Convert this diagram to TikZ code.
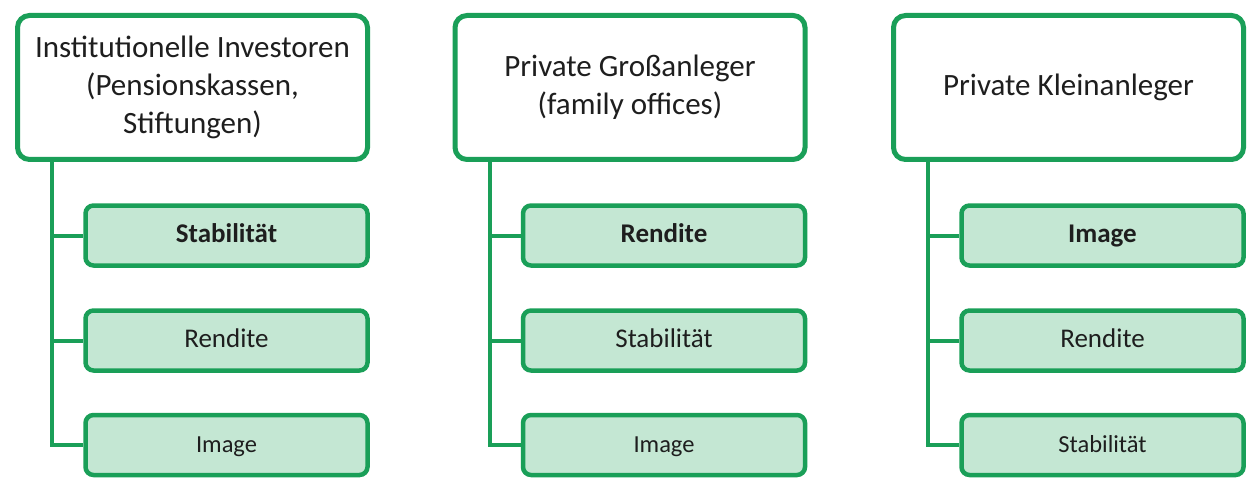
\documentclass[tikz,border=0pt]{standalone}
\usepackage{fontspec}
\setmainfont{Carlito}
\usepackage{xcolor}
\definecolor{invgreen}{HTML}{1A9F58}
\definecolor{invmint}{HTML}{C4E7D3}
\definecolor{invink}{HTML}{1E1E1E}
\usepackage{tikz}
\usetikzlibrary{backgrounds}
\tikzset{
  invtop/.style  ={rectangle, rounded corners=12pt, draw=invgreen, fill=white,
                   line width=5pt, minimum width=350pt, minimum height=144pt,
                   align=center, text=invink, font=\fontsize{31}{38}\selectfont},
  invcrit/.style ={rectangle, rounded corners=8pt, draw=invgreen, fill=invmint,
                   line width=4.5pt, minimum width=282pt, minimum height=60pt,
                   inner sep=0pt, text height=19pt, text depth=5pt,
                   text=invink, font=\fontsize{27}{32}\selectfont},
  invfirst/.style={invcrit, font=\fontsize{27}{32}\selectfont\bfseries},
  invlast/.style ={invcrit, font=\fontsize{24.5}{30}\selectfont},
  invline/.style ={line width=4pt, draw=invgreen},
}
% x of column, name, title, three criteria (most important first)
\newcommand{\invcol}[6]{%
  \node[invtop] (#2top) at (#1,87.5) {#3};
  \node[invfirst] (#2a) at ({#1+34},235.5) {#4};
  \node[invcrit]  (#2b) at ({#1+34},340.5) {#5};
  \node[invlast]  (#2c) at ({#1+34},445)   {#6};
  \coordinate (#2root) at ({#1-140.5},160);
  \begin{scope}[on background layer]
    \draw[invline] (#2root) |- (#2c.west);
    \draw[invline] (#2root) |- (#2a.west);
    \draw[invline] (#2root) |- (#2b.west);
  \end{scope}
}

\begin{document}
\begin{tikzpicture}[x=1pt, y=-1pt]
  \useasboundingbox (0,0) rectangle (1257,481);
  \invcol{192.5}{inst}{Institutionelle Investoren\\(Pensionskassen,\\Stiftungen)}{Stabilität}{Rendite}{Image}
  \invcol{630}{gross}{Private Großanleger\\(family offices)}{Rendite}{Stabilität}{Image}
  \invcol{1068.5}{klein}{Private Kleinanleger}{Image}{Rendite}{Stabilität}
\end{tikzpicture}
\end{document}
